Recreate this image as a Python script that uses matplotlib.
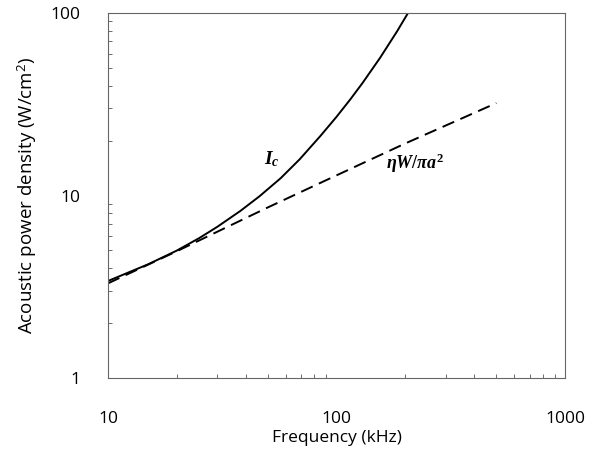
import numpy as np
import matplotlib
matplotlib.use('Agg')
import matplotlib.pyplot as plt
from matplotlib.ticker import LogLocator, NullFormatter, FixedLocator, FixedFormatter

# Critical intensity I_c (solid)
ic_freq = [10, 15, 20, 25, 30, 38, 46, 57, 69, 85, 100, 115, 130, 155, 184, 204, 210]
ic_power = [3.4, 4.2, 4.99, 5.83, 6.72, 8.24, 9.9, 12.45, 15.8, 21.2, 27.0, 33.7,
            41.4, 56.8, 79.4, 98.6, 105.0]

# eta W / pi a^2 (dashed)
dash_freq = [10, 20, 50, 100, 200, 500]
dash_power = [3.3, 4.95, 8.6, 12.9, 19.3, 32.1]

x_ticks = [10, 100, 1000]
x_labels = ['10', '100', '1000']
y_ticks = [1, 10, 100]
y_labels = ['1', '10', '100']

plt.rcParams['font.family'] = ['Open Sans', 'DejaVu Sans']
plt.rcParams['mathtext.fontset'] = 'custom'
plt.rcParams['mathtext.it'] = 'Liberation Serif:italic:bold'
plt.rcParams['mathtext.rm'] = 'Liberation Serif:bold'

fig = plt.figure(figsize=(5.93, 4.5), dpi=100, facecolor='white')
ax = fig.add_axes([0.182, 0.16, 0.771, 0.811])

ax.plot(ic_freq, ic_power, 'k-', lw=1.4)
ax.plot(dash_freq, dash_power, 'k--', lw=1.4, dashes=(6.5, 3.5))

ax.set_xscale('log')
ax.set_yscale('log')
ax.set_xlim(10, 1000)
ax.set_ylim(1, 100)

ax.xaxis.set_major_locator(FixedLocator(x_ticks))
ax.xaxis.set_major_formatter(FixedFormatter(x_labels))
ax.yaxis.set_major_locator(FixedLocator(y_ticks))
ax.yaxis.set_major_formatter(FixedFormatter(y_labels))
ax.xaxis.set_minor_locator(LogLocator(base=10, subs=np.arange(2, 10)))
ax.yaxis.set_minor_locator(LogLocator(base=10, subs=np.arange(2, 10)))
ax.xaxis.set_minor_formatter(NullFormatter())
ax.yaxis.set_minor_formatter(NullFormatter())

ax.tick_params(which='major', length=0, labelsize=12.5)
ax.tick_params(axis='x', which='major', pad=24)
ax.tick_params(axis='y', which='major', pad=20)
ax.tick_params(which='minor', direction='in', length=3, width=0.6, color='#555555')

for sp in ax.spines.values():
    sp.set_color('#666666')
    sp.set_linewidth(0.8)

ax.set_xlabel('Frequency (kHz)', fontsize=12.5, labelpad=2)
ax.set_ylabel('Acoustic power density (W/cm$^\\mathregular{2}$)', fontsize=13.5, labelpad=8)

ax.text(52, 15.8, r'$I_c$', fontsize=14, ha='center', va='center')
ax.text(221, 15.1, r'$\eta W/\pi a^2$', fontsize=13, ha='center', va='center')

fig.savefig('out.png', dpi=100, facecolor='white')
